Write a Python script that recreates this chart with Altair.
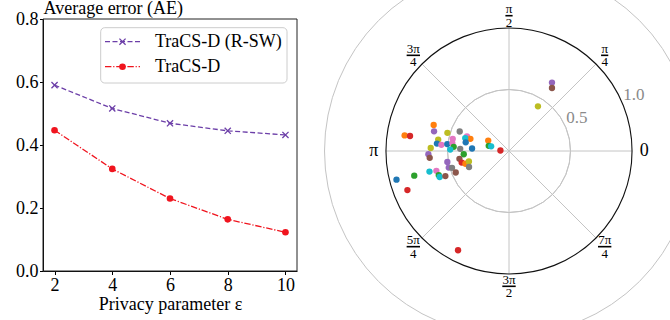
import math
import altair as alt
import pandas as pd

SERIF = "Liberation Serif"

# ---------------- left panel: average error vs. privacy parameter ----------------
eps = [2, 4, 6, 8, 10]
ae_rsw = [0.590, 0.516, 0.469, 0.445, 0.432]
ae_base = [0.447, 0.324, 0.230, 0.164, 0.123]
series_names = ["TraCS-D (R-SW)", "TraCS-D"]
series_colors = ["#6c3fa8", "#f0141e"]
y_ticks = [0.0, 0.2, 0.4, 0.6, 0.8]
eps_domain = [1.6, 10.4]
ae_domain = [0.0, 0.8]

# ---------------- right panel: polar scatter (radius, angle in radians) ----------------
pt_r = [0.858, 0.814, 0.648, 0.630, 0.522, 0.431, 0.362, 0.329, 0.371, 0.359,
        0.583, 0.589, 0.552, 0.505, 0.468, 0.465, 0.451, 0.478, 0.397, 0.301,
        0.189, 0.170, 0.150, 0.070, 0.637, 0.656, 0.647, 0.369, 0.408, 0.396,
        0.369, 0.337, 0.350, 0.509, 0.508, 0.483, 0.467, 0.668, 0.612, 0.604,
        0.602, 0.556, 0.944, 0.796, 0.885, 0.657, 0.620, 0.433, 0.907]
pt_theta = [2.993, 2.991, 2.809, 2.885, 2.855, 2.765, 2.805, 2.836, 2.854, 2.944,
            2.982, 3.039, 3.050, 3.030, 2.928, 3.003, 3.066, 3.118, 3.097, 3.074,
            2.678, 2.892, 2.884, 3.084, 3.103, 3.182, 3.227, 3.214, 3.298, 3.382,
            3.427, 3.398, 3.523, 3.318, 3.410, 3.429, 3.525, 3.395, 3.408, 3.472,
            3.500, 3.517, 3.391, 3.396, 3.509, 1.010, 0.972, 0.996, 4.238]
pt_color = ["orange", "red", "orange", "purple", "olive", "gray", "pink", "orange", "cyan", "blue",
            "olive", "blue", "pink", "blue", "pink", "pink", "green", "cyan", "gray", "blue",
            "orange", "green", "cyan", "red", "olive", "purple", "brown", "green", "brown", "red",
            "orange", "olive", "gray", "purple", "purple", "gray", "brown", "cyan", "pink", "green",
            "cyan", "brown", "blue", "green", "red", "purple", "brown", "olive", "red"]
tab10 = {"blue": "#1f77b4", "orange": "#ff7f0e", "green": "#2ca02c", "red": "#d62728",
         "purple": "#9467bd", "brown": "#8c564b", "pink": "#e377c2", "gray": "#7f7f7f",
         "olive": "#bcbd22", "cyan": "#17becf"}

r_grid = [0.5, 1.0]
r_label_angle = math.pi / 8
spoke_angles = [0, math.pi / 4, math.pi / 2, 3 * math.pi / 4,
                math.pi, 5 * math.pi / 4, 3 * math.pi / 2, 7 * math.pi / 4]
theta_num = ["0", "π", "π", "3π", "π", "5π", "3π", "7π"]
theta_den = ["", "4", "2", "4", "", "4", "2", "4"]

# ---------------- layout (pixels inside the shared drawing area) ----------------
W, H = 589, 255            # whole drawing area
LW, LH = 254, 252          # line-chart axes box
P0, PR = 343, 123          # polar panel left edge and radius
one = alt.Data(values=[{}])

# ================= left chart =================
df = pd.DataFrame({
    "eps": eps * 2,
    "ae": ae_rsw + ae_base,
    "series": [series_names[0]] * len(eps) + [series_names[1]] * len(eps),
})

ex_scale = alt.Scale(domain=eps_domain, range=[0, LW], nice=False, zero=False)
ae_scale = alt.Scale(domain=ae_domain, range=[LH, 0], nice=False, zero=False)

x_enc = alt.X("eps:Q", scale=ex_scale,
              axis=alt.Axis(values=eps, format="d", title="Privacy parameter ε",
                            labelPadding=2, offset=LH - H, titleY=38.5,
                            titleBaseline="alphabetic"))
y_enc = alt.Y("ae:Q", scale=ae_scale,
              axis=alt.Axis(values=y_ticks, format=".1f", title="Average error (AE)",
                            titleAngle=0, titleX=0, titleY=-5.5, titleAlign="left",
                            titleBaseline="alphabetic", labelPadding=1.5))

base = alt.Chart(df)
rsw = base.transform_filter(alt.datum.series == series_names[0])
plain = base.transform_filter(alt.datum.series == series_names[1])

XMARK = "M-1,-1L1,1M-1,1L1,-1"

frame = alt.Chart(one).mark_rect(filled=False, fillOpacity=0, stroke="#222222",
                                 strokeWidth=1).encode(
    x=alt.X(datum=eps_domain[0], scale=ex_scale), x2=alt.X2(datum=eps_domain[1]),
    y=alt.Y(datum=ae_domain[0], scale=ae_scale), y2=alt.Y2(datum=ae_domain[1]))

line_rsw = rsw.mark_line(color=series_colors[0], strokeWidth=1.3,
                         strokeDash=[5, 2.5]).encode(x=x_enc, y=y_enc)
pts_rsw = rsw.mark_point(shape=XMARK, size=38, filled=False, color=series_colors[0],
                         strokeWidth=1.3, opacity=1).encode(x=x_enc, y=y_enc)
line_plain = plain.mark_line(color=series_colors[1], strokeWidth=1.3,
                             strokeDash=[6.4, 1.8, 1.2, 1.8]).encode(x=x_enc, y=y_enc)
pts_plain = plain.mark_circle(size=44, color=series_colors[1], opacity=1).encode(x=x_enc, y=y_enc)

# legend (upper right, inside the axes)
leg_box = alt.Chart(one).mark_rect(cornerRadius=4, fill="white", stroke="#cccccc",
                                   strokeWidth=1).encode(
    x=alt.value(57.7), x2=alt.value(244), y=alt.value(8.7), y2=alt.value(64))
leg_line0 = alt.Chart(one).mark_rule(color=series_colors[0], strokeWidth=1.3,
                                     strokeDash=[5, 2.5]).encode(
    x=alt.value(62), x2=alt.value(97), y=alt.value(22.7))
leg_mk0 = alt.Chart(one).mark_point(shape=XMARK, size=38, filled=False, color=series_colors[0],
                                    strokeWidth=1.3, opacity=1).encode(
    x=alt.value(79.5), y=alt.value(22.7))
leg_txt0 = alt.Chart(one).mark_text(text=series_names[0], align="left", baseline="middle",
                                    font=SERIF, fontSize=18, color="black").encode(
    x=alt.value(112), y=alt.value(23.2))
leg_line1 = alt.Chart(one).mark_rule(color=series_colors[1], strokeWidth=1.3,
                                     strokeDash=[6.4, 1.8, 1.2, 1.8]).encode(
    x=alt.value(62), x2=alt.value(97), y=alt.value(47.7))
leg_mk1 = alt.Chart(one).mark_circle(size=44, color=series_colors[1], opacity=1).encode(
    x=alt.value(79.5), y=alt.value(47.7))
leg_txt1 = alt.Chart(one).mark_text(text=series_names[1], align="left", baseline="middle",
                                    font=SERIF, fontSize=18, color="black").encode(
    x=alt.value(112), y=alt.value(48.2))

left = alt.layer(frame, line_rsw, pts_rsw, line_plain, pts_plain,
                 leg_box, leg_line0, leg_mk0, leg_txt0, leg_line1, leg_mk1, leg_txt1)

# ================= right chart (polar) =================
px_scale = alt.Scale(domain=[-1, 1], range=[P0, P0 + 2 * PR], nice=False, zero=False)
py_scale = alt.Scale(domain=[-1, 1], range=[H, H - 2 * PR], nice=False, zero=False)
r_scale = alt.Scale(type="linear", domain=[0, 1], range=[0, PR], zero=True)


def pos(xf, yf):
    return dict(x=alt.X(xf, type="quantitative", scale=px_scale, axis=None),
                y=alt.Y(yf, type="quantitative", scale=py_scale, axis=None))


center = dict(x=alt.X(datum=0, scale=px_scale, axis=None),
              y=alt.Y(datum=0, scale=py_scale, axis=None))

rings = alt.Chart(pd.DataFrame({"r": r_grid})).mark_arc(
    theta=0, theta2=2 * math.pi, filled=False, fillOpacity=0,
    stroke="#c4c4c4", strokeWidth=1).encode(
    radius=alt.Radius("r:Q", scale=r_scale), **center)

spokes = alt.Chart(pd.DataFrame({"a": spoke_angles})).transform_calculate(
    x0="0", y0="0", x1="cos(datum.a)", y1="sin(datum.a)"
).mark_rule(color="#c4c4c4", strokeWidth=1).encode(
    x2="x1:Q", y2="y1:Q", **pos("x0", "y0"))

spine = alt.Chart(one).mark_arc(
    theta=0, theta2=2 * math.pi, filled=False, fillOpacity=0,
    stroke="#111111", strokeWidth=1.1).encode(
    radius=alt.Radius(datum=1, scale=r_scale), **center)

dots_df = pd.DataFrame({"r": pt_r, "theta": pt_theta,
                        "c": [tab10[c] for c in pt_color]})
dots = alt.Chart(dots_df).transform_calculate(
    px="datum.r * cos(datum.theta)", py="datum.r * sin(datum.theta)"
).mark_circle(size=40, opacity=1).encode(
    color=alt.Color("c:N", scale=None), **pos("px", "py"))

r_labels = alt.Chart(pd.DataFrame({"r": r_grid})).transform_calculate(
    px=f"datum.r * cos({r_label_angle})", py=f"datum.r * sin({r_label_angle})",
    lab="format(datum.r, '.1f')"
).mark_text(align="left", baseline="alphabetic", dx=0.5, dy=-4, font=SERIF,
            fontSize=17, color="#8a8a8a").encode(text="lab:N", **pos("px", "py"))

tl = alt.Chart(pd.DataFrame({"a": spoke_angles, "num": theta_num, "den": theta_den})
               ).transform_calculate(px="1.1 * cos(datum.a)", py="1.1 * sin(datum.a)")
t_plain = tl.transform_filter("datum.den == ''").mark_text(
    baseline="middle", font=SERIF, fontSize=18, color="black").encode(
    text="num:N", **pos("px", "py"))
frac = tl.transform_filter("datum.den != ''")
t_num = frac.mark_text(baseline="middle", dy=-6.5, font=SERIF, fontSize=13,
                       color="black").encode(text="num:N", **pos("px", "py"))
t_bar = frac.transform_calculate(bw="6.2 * length(datum.num) + 1").mark_tick(
    orient="horizontal", thickness=1.6, color="black", opacity=1).encode(
    size=alt.Size("bw:Q", scale=None), **pos("px", "py"))
t_den = frac.mark_text(baseline="middle", dy=7, font=SERIF, fontSize=13,
                       color="black").encode(text="den:N", **pos("px", "py"))

right = alt.layer(rings, spokes, spine, dots, r_labels, t_plain, t_num, t_bar, t_den)

chart = alt.layer(left, right).resolve_scale(
    x="independent", y="independent"
).properties(
    width=W, height=H,
    autosize=alt.AutoSizeParams(type="none"),
    padding={"left": 43, "top": 19, "right": 38, "bottom": 46},
).configure_view(
    stroke="transparent"
).configure_axis(
    labelFont=SERIF, labelFontSize=18, labelColor="black",
    titleFont=SERIF, titleFontSize=18, titleFontWeight="normal", titleColor="black",
    tickColor="black", domainColor="black", tickSize=3.5, tickWidth=1, domainWidth=1,
    grid=False,
)

chart.save("out.html", embed_options={"renderer": "svg", "actions": False})
